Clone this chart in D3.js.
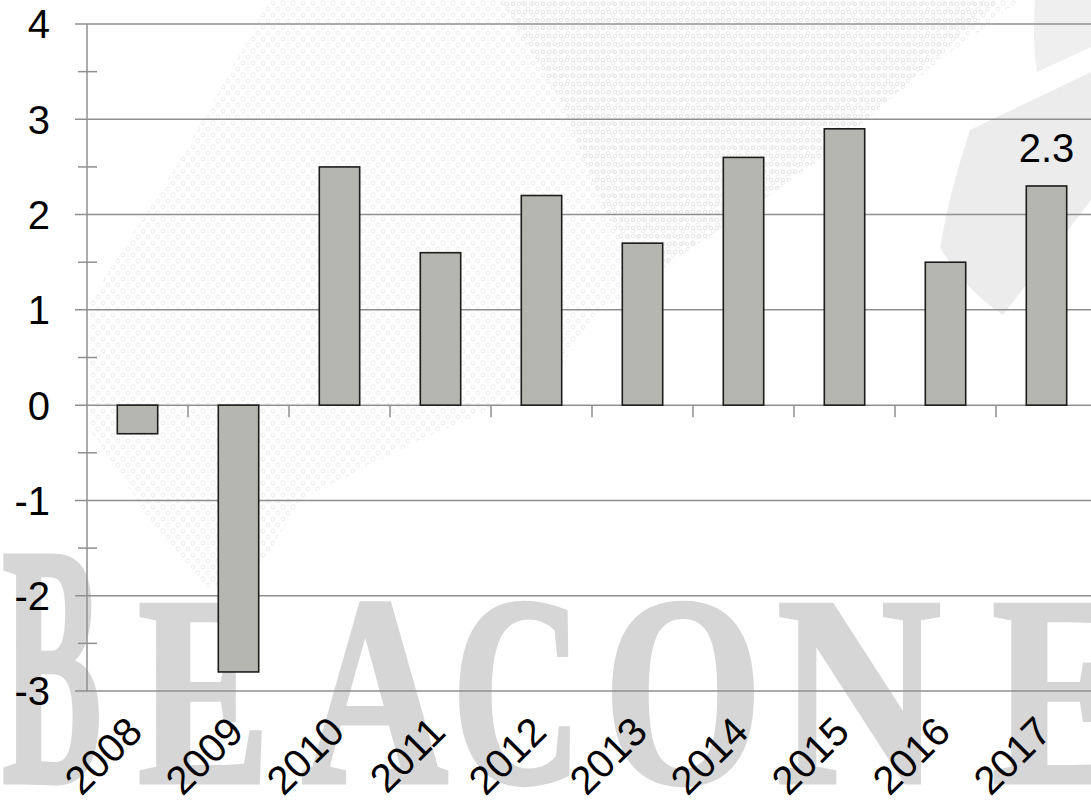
<!DOCTYPE html>
<html>
<head>
<meta charset="utf-8">
<script src="https://cdn.jsdelivr.net/npm/d3@7"></script>
<style>
  html, body { margin: 0; padding: 0; background: #ffffff; }
  svg { display: block; }
  .chart-text { font-family: "Liberation Sans", Arial, sans-serif; }
  .mark-text { font-family: "Liberation Serif", "Times New Roman", serif; font-weight: bold; }
</style>
</head>
<body>
<svg id="chart" width="1091" height="800"></svg>
<script>
// Annual growth (%) by year
const years = ["2008", "2009", "2010", "2011", "2012", "2013", "2014", "2015", "2016", "2017"];
const growth = [-0.3, -2.8, 2.5, 1.6, 2.2, 1.7, 2.6, 2.9, 1.5, 2.3];
const labelledYears = ["2017"];
const yMajorTicks = [-3, -2, -1, 0, 1, 2, 3, 4];
const yMinorTicks = [-2.5, -1.5, -0.5, 0.5, 1.5, 2.5, 3.5];

const svg = d3.select("#chart");
const W = 1091, H = 800;

const x = d3.scaleBand()
  .domain(years)
  .range([87, 1097])
  .paddingInner(0.6)
  .paddingOuter(0.3);

const y = d3.scaleLinear()
  .domain([-3, 4])
  .range([691, 24]);

// ---- background watermark ----
const bg = svg.append("g").attr("class", "watermark");

const defs = svg.append("defs");
const pat = defs.append("pattern")
  .attr("id", "dots")
  .attr("width", 10).attr("height", 12)
  .attr("patternUnits", "userSpaceOnUse");
pat.append("circle").attr("cx", 3).attr("cy", 3).attr("r", 2)
  .attr("fill", "none").attr("stroke", "#ececec").attr("stroke-width", 1);
pat.append("circle").attr("cx", 8).attr("cy", 9).attr("r", 2)
  .attr("fill", "none").attr("stroke", "#ececec").attr("stroke-width", 1);

const pat2 = defs.append("pattern")
  .attr("id", "dots2")
  .attr("width", 6).attr("height", 8)
  .attr("patternUnits", "userSpaceOnUse");
pat2.append("circle").attr("cx", 3).attr("cy", 4).attr("r", 1.8)
  .attr("fill", "none").attr("stroke", "#e5e5e5").attr("stroke-width", 1);

bg.append("path")
  .attr("d", "M270,0 L1020,0 L867,117 L786,183 L690,250 L593,317 L550,383 L420,440 L300,500 L265,560 L210,590 L150,520 L90,430 L90,300 L180,160 Z")
  .attr("fill", "url(#dots)");
bg.append("path")
  .attr("d", "M500,0 L1000,0 L900,90 L820,160 L720,230 L640,280 L600,200 L560,100 Z")
  .attr("fill", "url(#dots2)");

// soft grey swoosh at the upper right
bg.append("path")
  .attr("d", "M1035,0 L1091,0 L1091,47 L1037,72 Q1032,40 1035,0 Z")
  .attr("fill", "#efefef");
bg.append("path")
  .attr("d", "M1091,72 L970,130 Q950,190 940,247 Q965,290 1003,315 L1091,200 Z")
  .attr("fill", "#ececec");

// large serif lettering behind the plot
const markLetters = [
  { ch: "B", x: 2, w: 100, size: 345 },
  { ch: "E", x: 138, w: 132, size: 270 },
  { ch: "A", x: 302, w: 146, size: 270 },
  { ch: "C", x: 452, w: 130, size: 270 },
  { ch: "O", x: 604, w: 158, size: 270 },
  { ch: "N", x: 777, w: 164, size: 270 },
  { ch: "E", x: 992, w: 140, size: 270 }
];
bg.selectAll("text")
  .data(markLetters)
  .join("text")
  .attr("class", "mark-text")
  .attr("x", d => d.x)
  .attr("y", 782)
  .attr("font-size", d => d.size)
  .attr("fill", "#d6d6d6")
  .attr("stroke", "#d6d6d6")
  .attr("stroke-width", 5)
  .attr("textLength", d => d.w)
  .attr("lengthAdjust", "spacingAndGlyphs")
  .text(d => d.ch);

// ---- gridlines at each whole value ----
svg.append("g")
  .selectAll("line")
  .data(yMajorTicks)
  .join("line")
  .attr("x1", 75).attr("x2", W)
  .attr("y1", d => y(d)).attr("y2", d => y(d))
  .attr("stroke", "#8f8f8f")
  .attr("stroke-width", 1.5);

// minor ticks on the value axis
svg.append("g")
  .selectAll("line")
  .data(yMinorTicks)
  .join("line")
  .attr("x1", 78).attr("x2", 97)
  .attr("y1", d => y(d)).attr("y2", d => y(d))
  .attr("stroke", "#8f8f8f")
  .attr("stroke-width", 1.5);

// value axis line
svg.append("line")
  .attr("x1", 87).attr("x2", 87)
  .attr("y1", y(4)).attr("y2", y(-3))
  .attr("stroke", "#8f8f8f")
  .attr("stroke-width", 1.5);

// category ticks hanging below the zero line
const boundaries = years.map(d => x(d) - x.step() * x.paddingInner() / 2);
boundaries.push(x(years[years.length - 1]) + x.bandwidth() + x.step() * x.paddingInner() / 2);
svg.append("g")
  .selectAll("line")
  .data(boundaries.slice(1))
  .join("line")
  .attr("x1", d => d).attr("x2", d => d)
  .attr("y1", y(0)).attr("y2", y(0) + 12)
  .attr("stroke", "#8f8f8f")
  .attr("stroke-width", 1.5);

// value axis labels
svg.append("g")
  .selectAll("text")
  .data(yMajorTicks)
  .join("text")
  .attr("class", "chart-text")
  .attr("x", 50)
  .attr("y", d => y(d))
  .attr("dy", "0.36em")
  .attr("text-anchor", "end")
  .attr("font-size", 40)
  .attr("fill", "#000")
  .text(d => d3.format("d")(d).replace("−", "-"));

// bars
svg.append("g")
  .selectAll("rect")
  .data(years.map((yr, i) => ({ yr, v: growth[i] })))
  .join("rect")
  .attr("x", d => x(d.yr))
  .attr("width", x.bandwidth())
  .attr("y", d => y(Math.max(0, d.v)))
  .attr("height", d => Math.abs(y(d.v) - y(0)))
  .attr("fill", "#b5b6b0")
  .attr("stroke", "#1c1c1c")
  .attr("stroke-width", 1.6);

// value label
svg.append("g")
  .selectAll("text")
  .data(years.map((yr, i) => ({ yr, v: growth[i] })).filter(d => labelledYears.includes(d.yr)))
  .join("text")
  .attr("class", "chart-text")
  .attr("x", d => x(d.yr) + x.bandwidth() / 2)
  .attr("y", d => y(d.v) - 24)
  .attr("text-anchor", "middle")
  .attr("font-size", 40)
  .attr("fill", "#000")
  .text(d => d.v.toFixed(1));

// rotated category labels
svg.append("g")
  .selectAll("text")
  .data(years)
  .join("text")
  .attr("class", "chart-text")
  .attr("transform", d => `translate(${x(d) + x.bandwidth() / 2 + 7},734) rotate(-45)`)
  .attr("text-anchor", "end")
  .attr("font-size", 40)
  .attr("fill", "#000")
  .text(d => d);
</script>
</body>
</html>
